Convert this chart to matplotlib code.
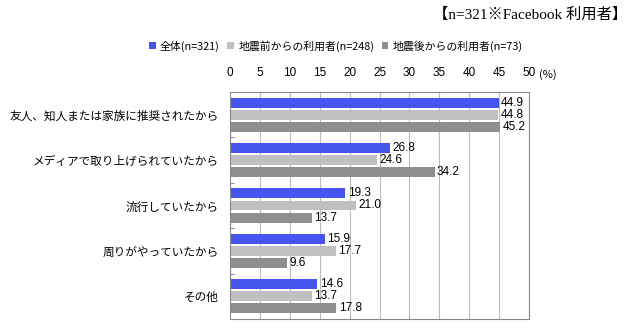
import matplotlib
matplotlib.use("Agg")
import matplotlib.pyplot as plt
import numpy as np
from matplotlib.patches import Patch

plt.rcParams['font.family'] = ['Noto Sans CJK JP', 'DejaVu Sans']

# ---------- Data ----------
categories = [
    "友人、知人または家族に推奨されたから",
    "メディアで取り上げられていたから",
    "流行していたから",
    "周りがやっていたから",
    "その他",
]
series_names = ["全体(n=321)", "地震前からの利用者(n=248)", "地震後からの利用者(n=73)"]
all_users = [44.9, 26.8, 19.3, 15.9, 14.6]
before_quake = [44.8, 24.6, 21.0, 17.7, 13.7]
after_quake = [45.2, 34.2, 13.7, 9.6, 17.8]
x_ticks = [0, 5, 10, 15, 20, 25, 30, 35, 40, 45, 50]

colors = ["#4655EE", "#C0C0C0", "#8F8F8F"]
num_font = ['Liberation Sans', 'DejaVu Sans']

# ---------- Figure ----------
fig = plt.figure(figsize=(6.4, 3.32), dpi=100)
ax = fig.add_axes([230/640, 1 - 319/332, (529 - 230)/640, (319 - 92)/332])

y = np.arange(len(categories)) + 0.5
h = 0.22
offsets = [-0.265, 0.0, 0.265]
for vals, off, col in zip([all_users, before_quake, after_quake], offsets, colors):
    ax.barh(y + off, vals, height=h, color=col, edgecolor='none', zorder=2)
    for yi, v in zip(y + off, vals):
        ax.text(v + 0.4, yi, f"{v:.1f}", va='center', ha='left', fontsize=8.5,
                family=num_font, zorder=3)

ax.set_xlim(0, 50)
ax.set_ylim(len(categories), 0)

# x axis on top, no tick marks
ax.xaxis.tick_top()
ax.set_xticks(x_ticks)
ax.set_xticklabels([str(t) for t in x_ticks], fontsize=8.5, family=num_font)
ax.tick_params(axis='x', length=0, pad=9)
ax.grid(axis='x', color='#BBBBBB', linewidth=0.8, zorder=0)

# category labels + small inner ticks at group boundaries
ax.set_yticks(y)
ax.set_yticklabels(categories, fontsize=8.4)
ax.tick_params(axis='y', which='major', length=0, pad=8)
ax.set_yticks(np.arange(1, len(categories)), minor=True)
ax.tick_params(axis='y', which='minor', length=3, direction='in', color='#777777')

for s in ax.spines.values():
    s.set_color('#888888')
    s.set_linewidth(0.8)

fig.text(548/640, 1 - 75/332, "(%)", ha='center', va='center', fontsize=8)

# legend
handles = [Patch(facecolor=c, edgecolor='none') for c in colors]
fig.legend(handles, series_names, loc='center', bbox_to_anchor=(336/640, 1 - 46/332),
           ncol=3, frameon=False, fontsize=7.8, handlelength=0.6, handleheight=0.6,
           handletextpad=0.4, columnspacing=0.7)

# title
fig.text(627/640, 1 - 15/332, "【n=321※Facebook 利用者】", ha='right', va='center',
         fontsize=11, family=['Liberation Serif', 'Noto Sans CJK JP'])

fig.savefig("out.png", dpi=100)
